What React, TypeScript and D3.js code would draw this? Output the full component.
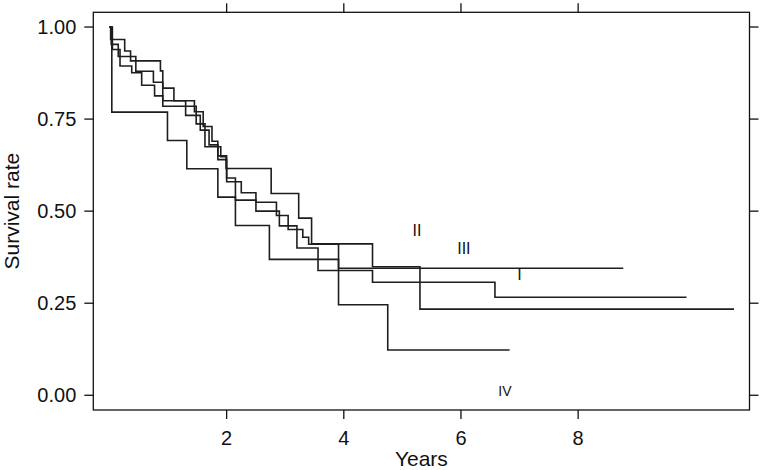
import React from "react";
import * as d3 from "d3";

const xTicks = [2, 4, 6, 8];
const yTicks = [0, 0.25, 0.5, 0.75, 1];
const yTickLabels = ["0.00", "0.25", "0.50", "0.75", "1.00"];

// Stage I
const timesI = [0, 0.02, 0.26, 0.36, 0.87, 0.91, 1.1, 1.45, 1.6, 1.75, 1.85, 2.0, 2.25, 2.5, 2.85, 3.05, 3.3, 3.4, 3.91];
const survI = [1, 0.966, 0.935, 0.908, 0.881, 0.834, 0.8, 0.77, 0.73, 0.69, 0.65, 0.58, 0.55, 0.524, 0.488, 0.45, 0.429, 0.41, 0.345];
const endI = 8.77;
// Stage II
const timesII = [0, 0.05, 0.18, 0.38, 0.55, 0.77, 0.91, 1.48, 1.63, 1.9, 1.99, 2.76, 3.23, 3.45, 4.49, 5.3];
const survII = [1, 0.939, 0.894, 0.876, 0.842, 0.813, 0.785, 0.737, 0.675, 0.648, 0.616, 0.548, 0.481, 0.411, 0.349, 0.234];
const endII = 10.66;
// Stage III
const timesIII = [0, 0.03, 0.15, 0.45, 0.75, 0.91, 1.3, 1.55, 1.7, 1.85, 2.0, 2.15, 2.5, 2.9, 3.2, 3.56, 4.49, 6.58];
const survIII = [1, 0.953, 0.92, 0.88, 0.85, 0.8, 0.76, 0.72, 0.68, 0.64, 0.59, 0.53, 0.5, 0.46, 0.4, 0.339, 0.307, 0.266];
const endIII = 9.85;
// Stage IV
const timesIV = [0, 0.04, 0.99, 1.32, 1.85, 2.15, 2.73, 3.91, 4.75];
const survIV = [1, 0.769, 0.692, 0.615, 0.538, 0.461, 0.369, 0.246, 0.123];
const endIV = 6.83;

const labels = ["I", "II", "III", "IV"];
const labelX = [7.0, 5.25, 6.05, 6.75];
const labelY = [0.328, 0.447, 0.398, 0.012];

const W = 763;
const H = 470;
const left = 93.3;
const right = 749.5;
const top = 12.3;
const bottom = 410;

export default function App() {
  const x = d3.scaleLinear().domain([-0.276, 10.925]).range([left, right]);
  const y = d3.scaleLinear().domain([-0.04, 1.04]).range([bottom, top]);
  const line = d3
    .line<[number, number]>()
    .x((d) => x(d[0]))
    .y((d) => y(d[1]))
    .curve(d3.curveStepAfter);

  const series = [
    [timesI, survI, endI],
    [timesII, survII, endII],
    [timesIII, survIII, endIII],
    [timesIV, survIV, endIV],
  ] as [number[], number[], number][];

  const font = "'Liberation Sans', Arial, Helvetica, sans-serif";

  return (
    <svg width={W} height={H} style={{ position: "absolute", left: 0, top: 0, background: "#fff" }}>
      <rect x={0} y={0} width={W} height={H} fill="#fff" />
      {series.map(([ts, ss, end], i) => {
        const pts: [number, number][] = ts.map((t, j) => [t, ss[j]] as [number, number]);
        pts.push([end, ss[ss.length - 1]]);
        return <path key={i} d={line(pts) || ""} fill="none" stroke="#1e1e1e" strokeWidth={1.6} />;
      })}
      <rect x={left} y={top} width={right - left} height={bottom - top} fill="none" stroke="#111" strokeWidth={1.3} />
      {xTicks.map((t) => (
        <g key={t}>
          <line x1={x(t)} x2={x(t)} y1={bottom} y2={bottom + 9} stroke="#111" strokeWidth={1.3} />
          <line x1={x(t)} x2={x(t)} y1={top} y2={top - 9} stroke="#111" strokeWidth={1.3} />
          <text x={x(t)} y={bottom + 35} textAnchor="middle" fontFamily={font} fontSize={20} fill="#111">
            {t}
          </text>
        </g>
      ))}
      {yTicks.map((v, i) => (
        <g key={v}>
          <line x1={left} x2={left - 9} y1={y(v)} y2={y(v)} stroke="#111" strokeWidth={1.3} />
          <line x1={right} x2={right + 9} y1={y(v)} y2={y(v)} stroke="#111" strokeWidth={1.3} />
          <text x={left - 17} y={y(v)} dy="0.36em" textAnchor="end" fontFamily={font} fontSize={20} fill="#111">
            {yTickLabels[i]}
          </text>
        </g>
      ))}
      {labels.map((l, i) => (
        <text key={l} x={x(labelX[i])} y={y(labelY[i])} dy="0.36em" textAnchor="middle" fontFamily={font} fontSize={i === 3 ? 14 : 16} fill="#111">
          {l}
        </text>
      ))}
      <text x={(left + right) / 2} y={H - 4} textAnchor="middle" fontFamily={font} fontSize={21} fill="#111">
        Years
      </text>
      <text transform={`translate(19, ${(top + bottom) / 2}) rotate(-90)`} textAnchor="middle" fontFamily={font} fontSize={21} fill="#111">
        Survival rate
      </text>
    </svg>
  );
}
